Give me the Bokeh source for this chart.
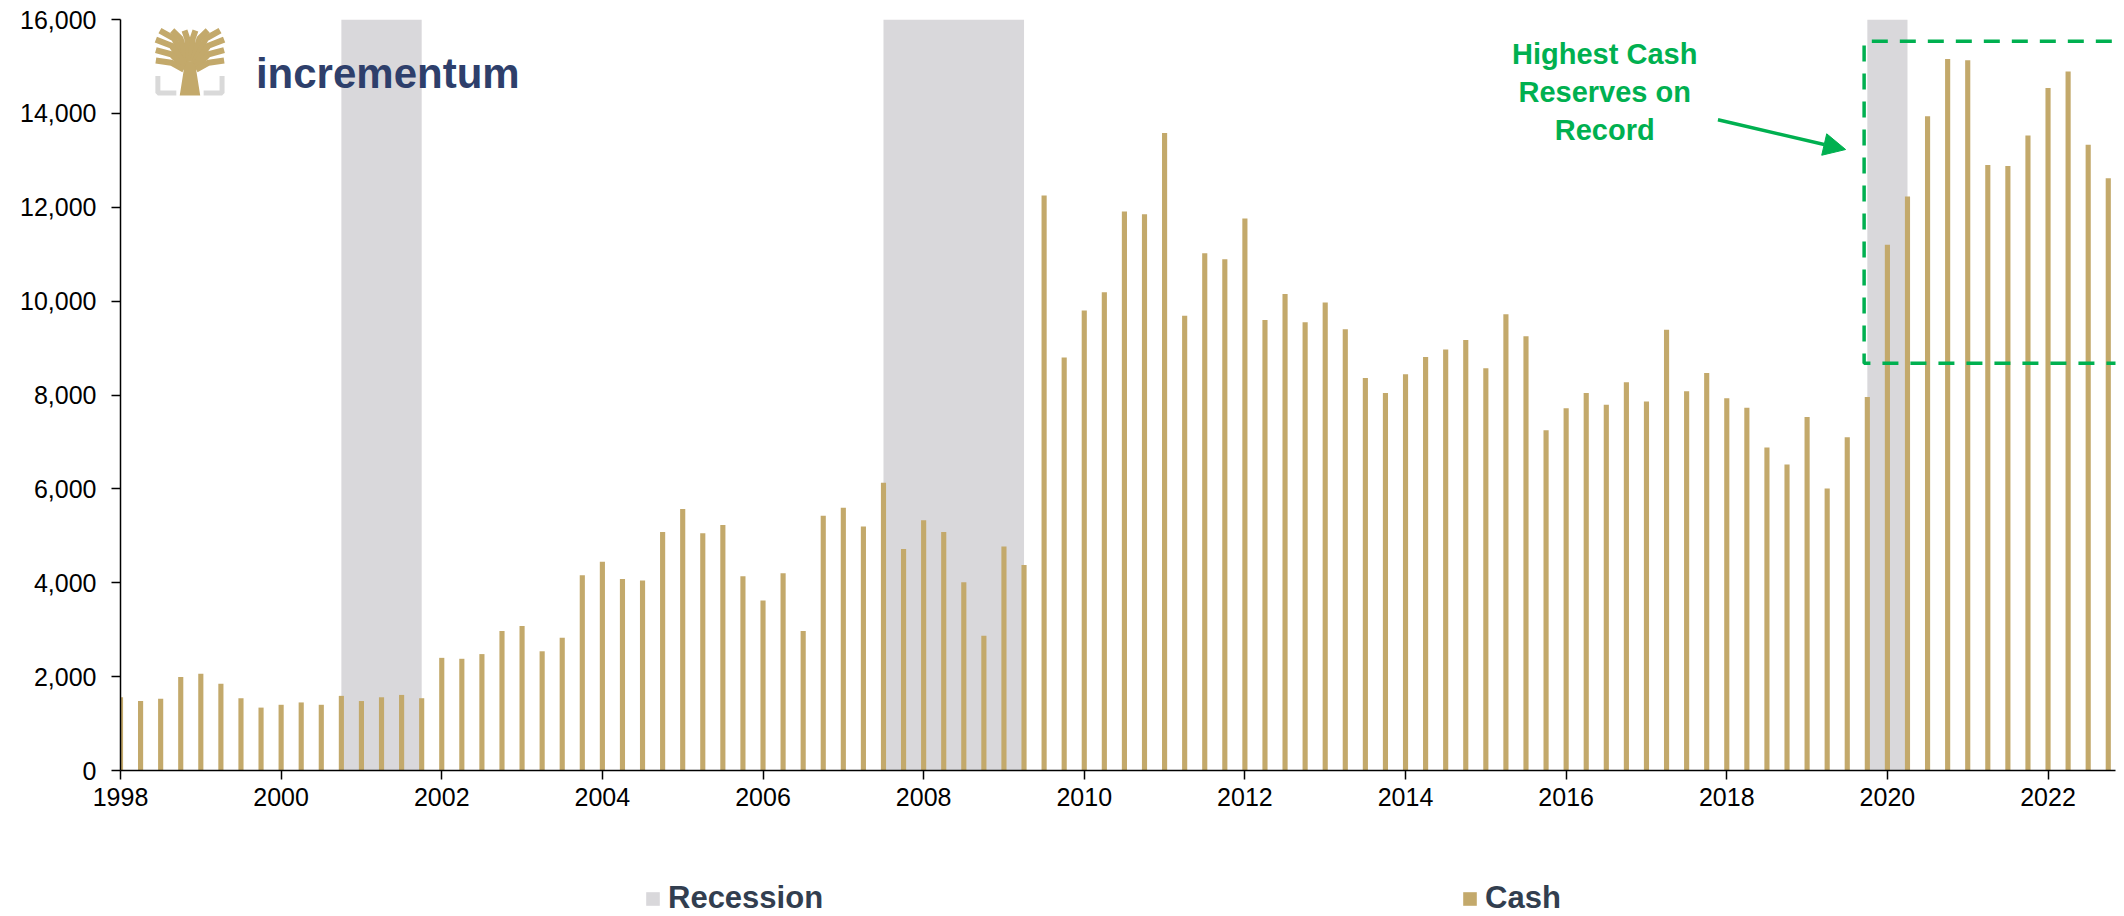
from bokeh.plotting import figure
from bokeh.layouts import column
from bokeh.models import Range1d, FixedTicker, NumeralTickFormatter, Legend, LegendItem, Arrow, NormalHead
from bokeh.core.properties import value
from bokeh.embed import file_html
from bokeh.resources import INLINE

# ---------------- data ----------------
years = list(range(1998, 2023))
cash = [
    1560, 1480, 1530, 1990,     # 1998
    2060, 1850, 1540, 1340,     # 1999
    1400, 1450, 1400, 1590,     # 2000
    1480, 1560, 1610, 1540,     # 2001
    2400, 2380, 2480, 2970,     # 2002
    3080, 2540, 2830, 4160,     # 2003
    4450, 4080, 4050, 5080,     # 2004
    5570, 5055, 5230, 4140,     # 2005
    3620, 4200, 2970, 5430,     # 2006
    5600, 5200, 6130, 4720,     # 2007
    5330, 5080, 4010, 2870,     # 2008
    4770, 4380, 12250, 8800,    # 2009
    9800, 10190, 11910, 11850,  # 2010
    13580, 9690, 11020, 10890,  # 2011
    11760, 9600, 10150, 9550,   # 2012
    9970, 9400, 8360, 8040,     # 2013
    8440, 8810, 8970, 9170,     # 2014
    8570, 9720, 9250, 7250,     # 2015
    7720, 8040, 7790, 8270,     # 2016
    7860, 9390, 8080, 8470,     # 2017
    7930, 7730, 6880, 6520,     # 2018
    7530, 6010, 7100, 7960,     # 2019
    11200, 12230, 13940, 15160, # 2020
    15130, 12900, 12880, 13530, # 2021
    14540, 14890, 13330, 12620, # 2022
]
quarters = [y + q * 0.25 for y in years for q in range(4)]

recession_start = [2000.75, 2007.5, 2019.75]
recession_end = [2001.75, 2009.25, 2020.25]

x_ticks = list(range(1998, 2023, 2))
y_ticks = list(range(0, 16001, 2000))

highlight_left = 2019.71
highlight_bottom = 8677
highlight_top = 15537

note_text = "Highest Cash\nReserves on\nRecord"
legend_labels = ["Recession", "Cash"]

# ---------------- styles ----------------
GOLD = "#c3a96b"
GREY = "#d9d8db"
GREEN = "#00b050"
NAVY = "#2e3f6b"
FONT = "Liberation Sans"

X0, X1 = 1998, 2022.84
p = figure(width=2124, height=830,
           x_range=Range1d(X0, X1), y_range=Range1d(0, 16000),
           output_backend="svg", toolbar_location=None,
           min_border_left=120, min_border_right=9,
           min_border_top=19, min_border_bottom=60)
p.xgrid.visible = False
p.ygrid.visible = False
p.outline_line_color = None
p.background_fill_color = "white"

p.quad(left=recession_start, right=recession_end, bottom=0, top=16000,
       fill_color=GREY, line_color=None)
p.vbar(x=quarters, top=cash, width=0.064, fill_color=GOLD, line_color=None)

# highlight box (dashed)
p.line(x=[X1 + 1, highlight_left, highlight_left, X1 + 1],
       y=[highlight_top, highlight_top, highlight_bottom, highlight_bottom],
       line_color=GREEN, line_width=3.5, line_dash="16 12")

# annotation text + arrow
p.text(x=[2016.48], y=[14455], text=[note_text], text_align="center",
       text_baseline="middle", text_font=value(FONT), text_font_style="bold",
       text_font_size="29px", text_color=GREEN, text_line_height=1.2)
p.add_layout(Arrow(end=NormalHead(size=22, fill_color=GREEN, line_color=GREEN),
                   x_start=2017.89, y_start=13864, x_end=2019.48, y_end=13230,
                   line_color=GREEN, line_width=3.5))

# logo
lx0, lx1, ly0, ly1 = 1998.44, 1999.29, 14380, 15765
def L(u, v):
    return lx0 + u * (lx1 - lx0), ly0 + v * (ly1 - ly0)

br = [[(0.03, 0.30), (0.03, 0.04), (0.30, 0.04)],
      [(0.97, 0.30), (0.97, 0.04), (0.70, 0.04)]]
p.multi_line(xs=[[L(u, v)[0] for u, v in s] for s in br],
             ys=[[L(u, v)[1] for u, v in s] for s in br],
             line_color="#d9d9d9", line_width=5)
trunk = [(0.35, 0.0), (0.65, 0.0), (0.59, 0.40), (0.66, 0.52), (0.34, 0.52), (0.41, 0.40)]
p.patch(x=[L(u, v)[0] for u, v in trunk], y=[L(u, v)[1] for u, v in trunk],
        fill_color=GOLD, line_color=None)
# branches: (start u, start v, end u, end v)
branches = [(0.44, 0.50, 0.06, 1.0), (0.46, 0.52, 0.24, 1.0), (0.49, 0.52, 0.42, 1.0),
            (0.51, 0.52, 0.58, 1.0), (0.54, 0.52, 0.76, 1.0), (0.56, 0.50, 0.94, 1.0),
            (0.42, 0.48, 0.0, 0.86), (0.41, 0.44, 0.0, 0.70), (0.41, 0.40, 0.0, 0.54),
            (0.58, 0.48, 1.0, 0.86), (0.59, 0.44, 1.0, 0.70), (0.59, 0.40, 1.0, 0.54)]
bx, by = [], []
for su, sv, eu, ev in branches:
    mu = su + (eu - su) * 0.45
    mv = sv + (ev - sv) * 0.75
    pts = [(su, sv), (mu, mv), (eu, ev)]
    bx.append([L(a, b)[0] for a, b in pts])
    by.append([L(a, b)[1] for a, b in pts])
p.multi_line(xs=bx, ys=by, line_color=GOLD, line_width=6)

p.text(x=[1999.686], y=[14855], text=["incrementum"], text_align="left",
       text_baseline="alphabetic", text_font=value(FONT), text_font_style="bold",
       text_font_size="42px", text_color=NAVY)

# axes
for ax in (p.xaxis[0], p.yaxis[0]):
    ax.axis_line_color = "black"
    ax.axis_line_width = 1.5
    ax.major_tick_line_color = "black"
    ax.major_tick_line_width = 1.5
    ax.major_tick_out = 9
    ax.major_tick_in = 0
    ax.minor_tick_line_color = None
    ax.major_label_text_font = FONT
    ax.major_label_text_font_size = "25px"
    ax.major_label_text_color = "black"
p.xaxis.ticker = FixedTicker(ticks=x_ticks)
p.yaxis.ticker = FixedTicker(ticks=y_ticks)
p.yaxis.formatter = NumeralTickFormatter(format="0,0")
p.yaxis.major_label_standoff = 15
p.xaxis.major_label_standoff = 8

# legend strip below the chart
lg = figure(width=2124, height=86, x_range=Range1d(0, 1), y_range=Range1d(0, 1),
            output_backend="svg", toolbar_location=None,
            x_axis_location=None, y_axis_location=None,
            min_border_left=0, min_border_right=0, min_border_top=0, min_border_bottom=0)
lg.xgrid.visible = False
lg.ygrid.visible = False
lg.outline_line_color = None
# swatch renderers (kept outside the visible range; used only for legend glyphs)
l_rec = lg.quad(left=[5], right=[6], bottom=[5], top=[6], fill_color=GREY, line_color=None)
l_cash = lg.quad(left=[5], right=[6], bottom=[5], top=[6], fill_color=GOLD, line_color=None)
legend = Legend(items=[LegendItem(label=legend_labels[0], renderers=[l_rec]),
                       LegendItem(label=legend_labels[1], renderers=[l_cash])],
                orientation="horizontal", location=(524, 0),
                spacing=638, padding=0, margin=0,
                glyph_width=17, glyph_height=17, label_standoff=7,
                label_height=30,
                label_text_font=FONT, label_text_font_style="bold",
                label_text_font_size="31px", label_text_color="#323e4f",
                border_line_color=None, background_fill_alpha=0)
lg.add_layout(legend)

open("out.html", "w").write(file_html(column(p, lg, spacing=0), INLINE))
